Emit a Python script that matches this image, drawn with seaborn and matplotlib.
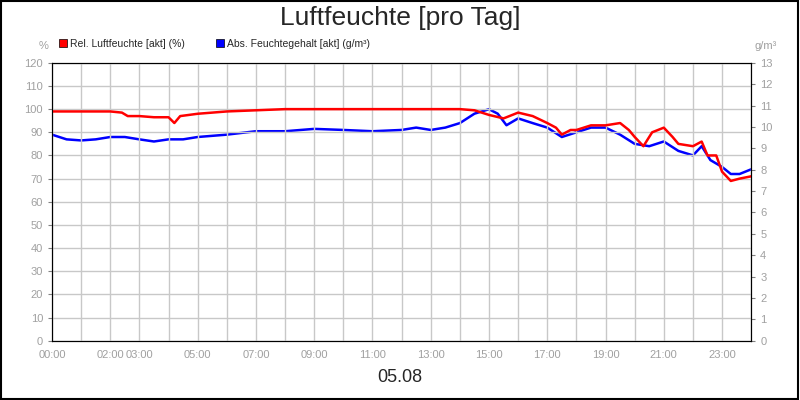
import matplotlib
matplotlib.use("Agg")
import matplotlib.pyplot as plt
import seaborn as sns
import pandas as pd
from matplotlib.patches import Rectangle

sns.set_style("white")
plt.rcParams['font.family'] = ['Liberation Sans', 'DejaVu Sans']

hours_rel = [0,0.5,1,1.5,2,2.4,2.6,3,3.5,4,4.2,4.4,5,6,7,8,9,10,11,12,13,14,14.5,15,15.5,16,16.5,17,17.3,17.5,17.8,18,18.5,19,19.5,19.8,20,20.3,20.6,21,21.3,21.5,22,22.3,22.5,22.8,23,23.3,23.6,24]
rel = [99,99,99,99,99,98.5,97,97,96.5,96.5,94,97,98,99,99.5,100,100,100,100,100,100,100,99.5,97.5,96,98.5,97,94,92,89,91,91,93,93,94,91,88,84,90,92,88,85,84,86,80,80,73,69,70,71]

hours_abs = [0,0.5,1,1.5,2,2.5,3,3.5,4,4.5,5,6,7,8,9,10,11,12,12.5,13,13.5,14,14.5,15,15.3,15.6,16,16.5,17,17.5,18,18.5,19,19.5,20,20.5,21,21.5,22,22.3,22.6,23,23.3,23.6,24]
absf = [9.64,9.42,9.37,9.42,9.53,9.53,9.42,9.32,9.42,9.42,9.53,9.64,9.80,9.80,9.91,9.86,9.80,9.86,9.97,9.86,9.97,10.18,10.62,10.83,10.62,10.08,10.40,10.18,9.97,9.53,9.75,9.97,9.97,9.64,9.21,9.10,9.32,8.88,8.67,9.10,8.45,8.13,7.80,7.80,8.02]

df_rel = pd.DataFrame({"h": hours_rel, "v": rel})
df_abs = pd.DataFrame({"h": hours_abs, "v": absf})

fig = plt.figure(figsize=(8, 4), dpi=100)
ax = fig.add_axes([0.065, 0.148, 0.874, 0.695])
ax2 = ax.twinx()
sns.lineplot(data=df_rel, x="h", y="v", ax=ax, color="#ff0000", lw=1.8)
sns.lineplot(data=df_abs, x="h", y="v", ax=ax2, color="#0000ff", lw=1.8)
ax.set_xlim(0, 24); ax.set_ylim(0, 120); ax2.set_ylim(0, 13)
ax.set_yticks(range(0, 121, 10)); ax2.set_yticks(range(0, 14))
ax.set_xticks(range(0, 25))
ax.set_xticklabels([f"{h:02d}:00" if h in (0,2,3,5,7,9,11,13,15,17,19,21,23) else "" for h in range(25)])
ax.grid(True, color="#c8c8c8", lw=1)
ax.set_axisbelow(True)
for a in (ax, ax2):
    a.set_xlabel(""); a.set_ylabel("")
    a.tick_params(labelsize=8, labelcolor="#a0a0a0", length=3, color="#808080")
    for s in a.spines.values():
        s.set_color("black")
ax.set_zorder(ax2.get_zorder() + 1); ax.patch.set_visible(False)
fig.text(0.5, 0.955, "Luftfeuchte [pro Tag]", ha="center", va="center", fontsize=19)
fig.text(0.5, 0.055, "05.08", ha="center", va="center", fontsize=13)
fig.text(0.054, 0.878, "%", ha="center", fontsize=8, color="#a0a0a0")
fig.text(0.957, 0.878, "g/m³", ha="center", fontsize=8, color="#a0a0a0")
fig.patches.append(Rectangle((0.074, 0.882), 0.01, 0.02, transform=fig.transFigure, facecolor="red", edgecolor="black", lw=0.5))
fig.text(0.088, 0.89, "Rel. Luftfeuchte [akt] (%)", fontsize=7.5, va="center")
fig.patches.append(Rectangle((0.27, 0.882), 0.01, 0.02, transform=fig.transFigure, facecolor="blue", edgecolor="black", lw=0.5))
fig.text(0.284, 0.89, "Abs. Feuchtegehalt [akt] (g/m³)", fontsize=7.5, va="center")
fig.patches.append(Rectangle((0.001, 0.002), 0.997, 0.995, transform=fig.transFigure, fill=False, edgecolor="black", lw=1.5))
fig.savefig("out.png", dpi=100)
